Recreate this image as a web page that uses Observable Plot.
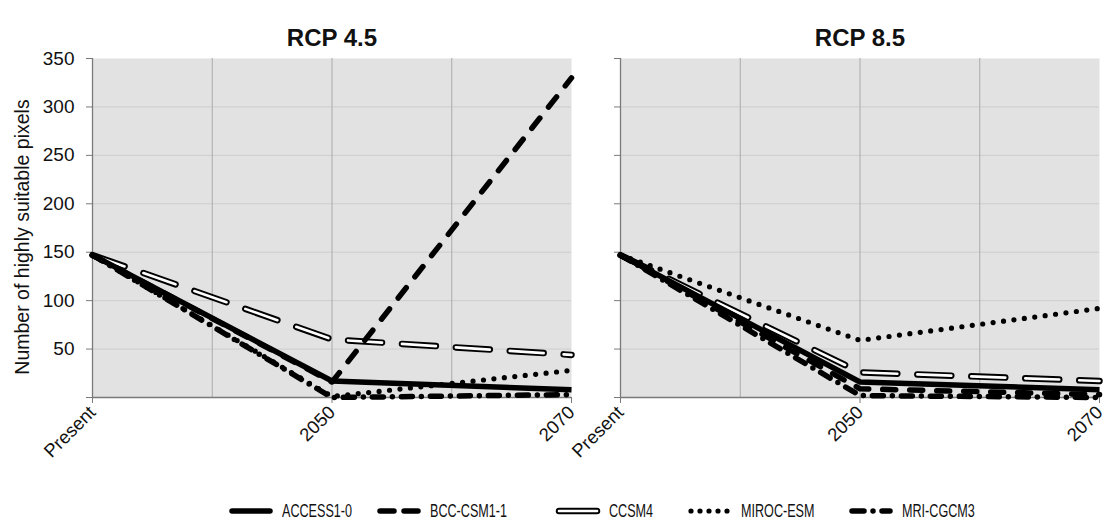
<!DOCTYPE html>
<html>
<head>
<meta charset="utf-8">
<script src="https://cdn.jsdelivr.net/npm/d3@7"></script>
<script src="https://cdn.jsdelivr.net/npm/@observablehq/plot@0.6"></script>
<style>
  html, body { margin: 0; padding: 0; background: #fff; }
  #wrap { position: relative; width: 1111px; height: 521px; overflow: hidden; }
  #legend { position: absolute; left: 0; top: 498px; width: 1111px; height: 26px;
            font-family: "Liberation Sans", Arial, sans-serif;
            font-size: 18px; color: #111; }
  .item { position: absolute; top: 0; display: flex; align-items: center; height: 26px; white-space: nowrap; }
  .item svg { margin-right: 8px; }
  .item span { display: inline-block; transform: scaleX(0.7); transform-origin: 0 50%; }
</style>
</head>
<body>
<div id="wrap"><div id="chart"></div><div id="legend"></div></div>
<script>
// ---- data ----
const periods = ["Present", "2050", "2070"];
const scenarios = ["RCP 4.5", "RCP 8.5"];
const models = ["ACCESS1-0", "BCC-CSM1-1", "CCSM4", "MIROC-ESM", "MRI-CGCM3"];
const yTicks = [50, 100, 150, 200, 250, 300, 350];
const yLabel = "Number of highly suitable pixels";

// RCP 4.5 values (Present, 2050, 2070)
const rcp45_access = [147, 17, 8];
const rcp45_bcc    = [147, 16, 330];
const rcp45_ccsm4  = [147, 60, 44];
const rcp45_miroc  = [147, 1, 28];
const rcp45_mri    = [147, 0, 3];
// RCP 8.5 values (Present, 2050, 2070)
const rcp85_access = [147, 16, 8];
const rcp85_bcc    = [147, 9, 3];
const rcp85_ccsm4  = [147, 26, 17];
const rcp85_miroc  = [147, 59, 92];
const rcp85_mri    = [147, 2, 0];

const series = {
  "RCP 4.5": [rcp45_access, rcp45_bcc, rcp45_ccsm4, rcp45_miroc, rcp45_mri],
  "RCP 8.5": [rcp85_access, rcp85_bcc, rcp85_ccsm4, rcp85_miroc, rcp85_mri]
};
const rows = [];
for (const s of scenarios) {
  series[s].forEach((vals, mi) => {
    vals.forEach((v, i) => rows.push({scenario: s, model: models[mi], x: i, value: v}));
  });
}

// ---- styles ----
const styles = {
  "ACCESS1-0":  [{strokeWidth: 5.5, strokeDasharray: null, strokeLinecap: "butt", stroke: "#000"}],
  "BCC-CSM1-1": [{strokeWidth: 5.5, strokeDasharray: "13,14", strokeLinecap: "round", stroke: "#000"}],
  "CCSM4":      [{strokeWidth: 6.5, strokeDasharray: "34,20", strokeLinecap: "round", stroke: "#000"},
                 {strokeWidth: 2.6, strokeDasharray: "34,20", strokeLinecap: "round", stroke: "#fff"}],
  "MIROC-ESM":  [{strokeWidth: 5.2, strokeDasharray: "0,10.5", strokeLinecap: "round", stroke: "#000"}],
  "MRI-CGCM3":  [{strokeWidth: 5.5, strokeDasharray: "11,9,0,9", strokeLinecap: "round", stroke: "#000"}]
};
const legendDash = {"ACCESS1-0": null, "BCC-CSM1-1": "14,10", "CCSM4": null, "MIROC-ESM": "0,9", "MRI-CGCM3": "12,9,0,9"};
const drawOrder = ["CCSM4", "MIROC-ESM", "MRI-CGCM3", "BCC-CSM1-1", "ACCESS1-0"];

const lineMarks = [];
for (const m of drawOrder) {
  for (const st of styles[m]) {
    lineMarks.push(Plot.line(rows.filter(d => d.model === m), {
      x: "x", y: "value", fx: "scenario",
      stroke: st.stroke, strokeWidth: st.strokeWidth,
      strokeDasharray: st.strokeDasharray, strokeLinecap: st.strokeLinecap,
      strokeLinejoin: "round"
    }));
  }
}

const chart = Plot.plot({
  width: 1111,
  height: 480,
  marginLeft: 91,
  marginRight: 11,
  marginTop: 58,
  marginBottom: 83,
  style: {fontFamily: "'Liberation Sans', Arial, sans-serif", fontSize: "19px", color: "#111", background: "#fff", overflow: "visible"},
  fx: {domain: scenarios, axis: null, paddingInner: 0.0926, paddingOuter: 0},
  x: {domain: [0, 2], axis: null},
  y: {domain: [0, 350], axis: null},
  marks: [
    Plot.frame({fill: "#e2e2e2", stroke: null}),
    Plot.gridY({ticks: [50, 100, 150, 200, 250, 300], stroke: "#cdcdcd", strokeOpacity: 1, strokeWidth: 1}),
    Plot.gridX({ticks: [0.5, 1, 1.5], stroke: "#aaaaaa", strokeOpacity: 1, strokeWidth: 1}),
    Plot.ruleY([0], {stroke: "#7a7a7a", strokeWidth: 1.3}),
    Plot.ruleX([0], {stroke: "#7a7a7a", strokeWidth: 1.3}),
    Plot.axisY({ticks: [0, ...yTicks], tickSize: 6, tickFormat: () => "", label: null, stroke: "#7a7a7a", facetAnchor: null}),
    Plot.axisY({ticks: yTicks, tickSize: 0, tickPadding: 18, fontSize: 19, label: null}),
    Plot.text([yLabel], {fx: () => scenarios[0], text: d => d, frameAnchor: "left", textAnchor: "middle",
                         rotate: -90, dx: -70, dy: 9, fontSize: 19.5, fill: "#111"}),
    Plot.axisX({ticks: [0, 1, 2], tickSize: 6, stroke: "#7a7a7a", tickFormat: i => periods[i],
                tickRotate: -45, fontSize: 18.5, label: null, facetAnchor: null}),
    ...lineMarks,
    Plot.text(scenarios, {fx: d => d, text: d => d, frameAnchor: "top", dy: -30,
                          fontSize: 24, fontWeight: "bold", fill: "#111"})
  ]
});
document.getElementById("chart").appendChild(chart);

// ---- legend ----
const legendLeft = [228, 376, 555, 687, 848];
const legend = document.getElementById("legend");
models.forEach((m, i) => {
  const item = document.createElement("div");
  item.className = "item";
  item.style.left = legendLeft[i] + "px";
  const svg = d3.create("svg").attr("width", 46).attr("height", 12);
  for (const st of styles[m]) {
    svg.append("line").attr("x1", 4).attr("x2", 42).attr("y1", 6).attr("y2", 6)
      .attr("stroke", st.stroke).attr("stroke-width", st.strokeWidth)
      .attr("stroke-dasharray", legendDash[m])
      .attr("stroke-linecap", "round");
  }
  item.appendChild(svg.node());
  const t = document.createElement("span");
  t.textContent = m;
  item.appendChild(t);
  legend.appendChild(item);
});
</script>
</body>
</html>
